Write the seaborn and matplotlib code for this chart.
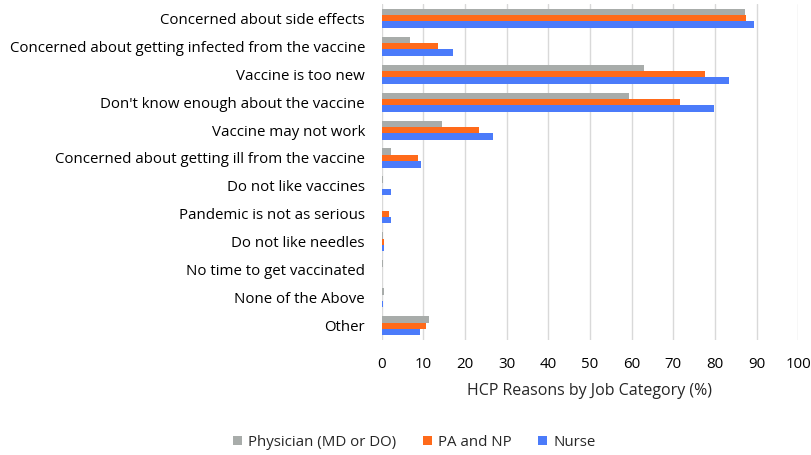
import pandas as pd
import matplotlib.pyplot as plt
import seaborn as sns

reasons = [
    "Concerned about side effects",
    "Concerned about getting infected from the vaccine",
    "Vaccine is too new",
    "Don't know enough about the vaccine",
    "Vaccine may not work",
    "Concerned about getting ill from the vaccine",
    "Do not like vaccines",
    "Pandemic is not as serious",
    "Do not like needles",
    "No time to get vaccinated",
    "None of the Above",
    "Other",
]
physician = [87.2, 6.7, 62.9, 59.4, 14.5, 2.3, 0.3, 0.0, 0.3, 0.3, 0.6, 11.4]
pa_np     = [87.5, 13.5, 77.6, 71.7, 23.3, 8.8, 0.2, 1.7, 0.5, 0.2, 0.2, 10.6]
nurse     = [89.3, 17.1, 83.3, 79.9, 26.8, 9.5, 2.2, 2.2, 0.6, 0.0, 0.3, 9.1]
groups = ["Physician (MD or DO)", "PA and NP", "Nurse"]
colors = ["#A8ACAA", "#FF6A1A", "#4B7BFA"]

df = pd.DataFrame({"Reason": reasons, groups[0]: physician,
                   groups[1]: pa_np, groups[2]: nurse})
long = df.melt(id_vars="Reason", var_name="Group", value_name="Pct")

sns.set_style("white")
plt.rcParams['font.family'] = ['Open Sans', 'DejaVu Sans']

fig = plt.figure(figsize=(8.12, 4.55), dpi=100)
ax = fig.add_axes([0.470, 0.253, 0.513, 0.738])

sns.barplot(data=long, y="Reason", x="Pct", hue="Group", hue_order=groups,
            palette=colors, orient="h", width=0.68, saturation=1,
            linewidth=0, ax=ax)

ax.set_xlim(0, 100)
ax.set_xticks(range(0, 101, 10))
ax.set_ylim(11.5, -0.5)
ax.grid(axis="x", color="#D9D9D9", linewidth=1)
ax.set_axisbelow(True)
for s in ax.spines.values():
    s.set_visible(False)
ax.tick_params(axis="both", length=0, labelsize=10.8, colors="#000000")
ax.tick_params(axis="x", pad=12)
ax.tick_params(axis="y", pad=12)
ax.set_ylabel("")
ax.set_xlabel("HCP Reasons by Job Category (%)", fontsize=11.5, labelpad=8)

ax.legend(loc="lower center", bbox_to_anchor=(0.51, -0.018),
          bbox_transform=fig.transFigure, ncol=3, frameon=False,
          fontsize=10.8, handlelength=0.6, handleheight=0.6,
          handletextpad=0.4, columnspacing=1.8)

fig.savefig("out.png", dpi=100)
